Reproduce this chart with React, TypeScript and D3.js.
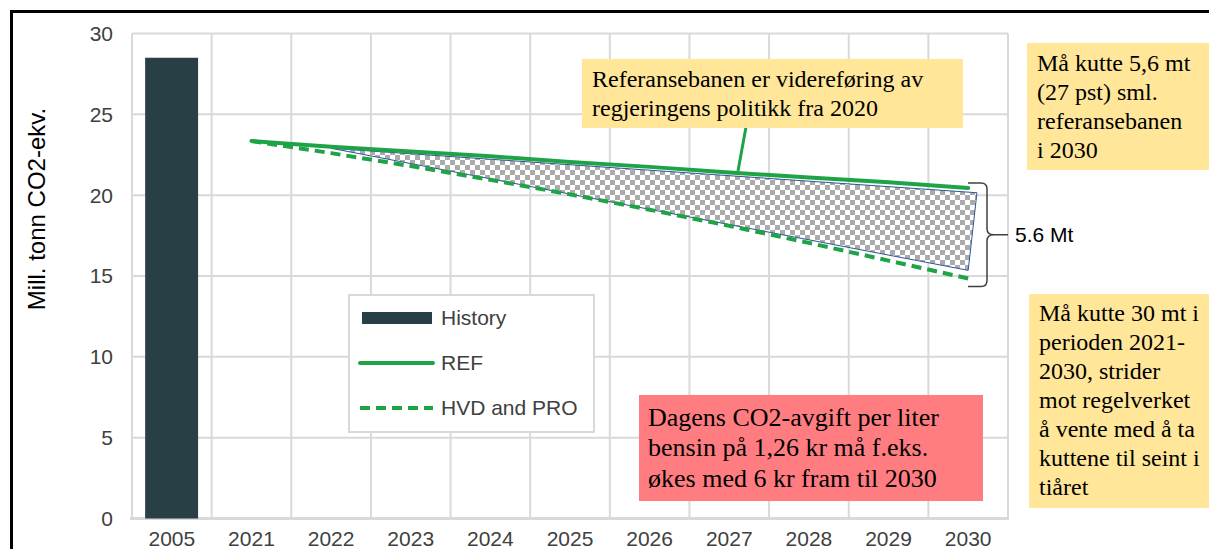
import React from "react";
import * as d3 from "d3";

const categories = ["2005", "2021", "2022", "2023", "2024", "2025", "2026", "2027", "2028", "2029", "2030"];
const historyYears = ["2005"];
const historyValues = [28.5];
const lineYears = ["2021", "2022", "2023", "2024", "2025", "2026", "2027", "2028", "2029", "2030"];
const refValues = [23.35, 23.0, 22.7, 22.4, 22.05, 21.75, 21.4, 21.1, 20.8, 20.45];
const hvdValues = [23.35, 22.6, 21.8, 20.95, 20.05, 19.1, 18.1, 17.05, 15.95, 14.85];
const yTicks = [0, 5, 10, 15, 20, 25, 30];
// gap polygon (year, offset within band, value)
const gapYears = ["2022", "2030", "2030"];
const gapOffsets = [0, 0.11, 0];
const gapValues = [22.9, 20.15, 15.35];

const W = 1209;
const H = 549;
const M = { left: 132, right: 1008, top: 33.5, bottom: 518.5 };

const GREEN = "#1ea347";
const BAR = "#283f45";
const GRID = "#d9d9d9";
const TICK = "#404040";
const SANS = "'Liberation Sans', Arial, sans-serif";
const SERIF = "'Liberation Serif', 'Times New Roman', serif";

export default function App() {
  const x = d3.scaleBand<string>().domain(categories).range([M.left, M.right]).padding(0);
  const y = d3.scaleLinear().domain([0, 30]).range([M.bottom, M.top]);
  const bw = x.bandwidth();
  const cx = (c: string) => (x(c) as number) + bw / 2;

  const line = d3
    .line<number>()
    .x((_, i) => cx(lineYears[i]))
    .y((d) => y(d));

  const gapPts = gapValues.map((v, i) => [cx(gapYears[i]) + gapOffsets[i] * bw, y(v)] as [number, number]);
  const gapPath = "M" + gapPts.map((p) => p.join(",")).join("L") + "Z";

  // brace geometry tied to the 2030 values
  const bTop = y(refValues[refValues.length - 1]) - 5;
  const bBot = y(hvdValues[hvdValues.length - 1]) + 8;
  const bMid = (bTop + bBot) / 2;
  const bx = 987;
  const bx0 = 968;
  const bTip = 1008;
  const bracePath = `M${bx0},${bTop} L${bx - 6},${bTop} Q${bx},${bTop} ${bx},${bTop + 6} L${bx},${bMid - 6} Q${bx},${bMid} ${bx + 7},${bMid} L${bTip},${bMid} M${bx + 7},${bMid} Q${bx},${bMid} ${bx},${bMid + 6} L${bx},${bBot - 6} Q${bx},${bBot} ${bx - 6},${bBot} L${bx0},${bBot}`;

  const legendX = 349;
  const legendY = 295;

  return (
    <svg width={W} height={H} style={{ position: "absolute", left: 0, top: 0, background: "#fff" }}>
      <defs>
        <pattern id="checker" width="10" height="10" patternUnits="userSpaceOnUse">
          <rect width="10" height="10" fill="#ffffff" />
          <rect width="5" height="5" fill="#ababab" />
          <rect x="5" y="5" width="5" height="5" fill="#ababab" />
        </pattern>
      </defs>
      {/* outer frame */}
      <path d={`M11.5,${H + 5} L11.5,11.5 L${W + 5},11.5`} fill="none" stroke="#000" strokeWidth={3} />

      {/* grid */}
      {yTicks.map((t) => (
        <line key={"h" + t} x1={M.left} x2={M.right} y1={y(t)} y2={y(t)} stroke={GRID} strokeWidth={2} />
      ))}
      {categories.map((c) => (
        <line key={"v" + c} x1={x(c)} x2={x(c)} y1={M.top} y2={M.bottom} stroke={GRID} strokeWidth={2} />
      ))}
      <line x1={M.right} x2={M.right} y1={M.top} y2={M.bottom} stroke={GRID} strokeWidth={2} />
      <line x1={M.left - 2} x2={M.right + 1} y1={M.bottom} y2={M.bottom} stroke={GRID} strokeWidth={3} />

      {/* bars */}
      {historyYears.map((c, i) => (
        <rect key={c} x={(x(c) as number) + bw * 0.165} width={bw * 0.665} y={y(historyValues[i])} height={y(0) - y(historyValues[i])} fill={BAR} />
      ))}

      {/* gap polygon */}
      <path d={gapPath} fill="url(#checker)" stroke="#2f5597" strokeWidth={1} />

      {/* lines */}
      <path d={line(refValues) || ""} fill="none" stroke={GREEN} strokeWidth={4} strokeLinecap="round" />
      <path d={line(hvdValues) || ""} fill="none" stroke={GREEN} strokeWidth={4} strokeDasharray="10,6" />

      {/* y tick labels */}
      {yTicks.map((t) => (
        <text key={"yt" + t} x={113} y={y(t)} dy="0.35em" textAnchor="end" fontFamily={SANS} fontSize={21} fill={TICK}>
          {t}
        </text>
      ))}
      {/* x tick labels */}
      {categories.map((c) => (
        <text key={"xt" + c} x={cx(c)} y={546} textAnchor="middle" fontFamily={SANS} fontSize={21} fill={TICK}>
          {c}
        </text>
      ))}

      {/* y axis title */}
      <text transform={`translate(45,209) rotate(-90)`} textAnchor="middle" fontFamily={SANS} fontSize={24} fill="#000">
        Mill. tonn CO2-ekv.
      </text>

      {/* legend */}
      <rect x={legendX} y={legendY} width={245} height={137} fill="#fff" stroke={GRID} strokeWidth={2} />
      <rect x={legendX + 13} y={legendY + 17} width={70} height={12} fill={BAR} />
      <text x={legendX + 92} y={legendY + 23} dy="0.35em" fontFamily={SANS} fontSize={21} fill={TICK}>History</text>
      <line x1={legendX + 11} x2={legendX + 84} y1={legendY + 68} y2={legendY + 68} stroke={GREEN} strokeWidth={4} strokeLinecap="round" />
      <text x={legendX + 92} y={legendY + 68} dy="0.35em" fontFamily={SANS} fontSize={21} fill={TICK}>REF</text>
      <line x1={legendX + 11} x2={legendX + 84} y1={legendY + 113} y2={legendY + 113} stroke={GREEN} strokeWidth={4} strokeDasharray="10,6" />
      <text x={legendX + 92} y={legendY + 113} dy="0.35em" fontFamily={SANS} fontSize={21} fill={TICK}>HVD and PRO</text>

      {/* brace + label */}
      <path d={bracePath} fill="none" stroke="#404040" strokeWidth={1.5} />
      <text x={1015} y={bMid} dy="0.35em" fontFamily={SANS} fontSize={21} fill="#000">5.6 Mt</text>

      {/* connector */}
      <line x1={746} y1={127} x2={738} y2={171} stroke={GREEN} strokeWidth={3} />

      {/* annotation boxes */}
      <rect x={582} y={59} width={381} height={69} fill="#ffe699" />
      <text fontFamily={SERIF} fontSize={24} fill="#000">
        <tspan x={592} y={87}>Referansebanen er videreføring av</tspan>
        <tspan x={592} y={116}>regjeringens politikk fra 2020</tspan>
      </text>

      <rect x={1027} y={43} width={190} height={127} fill="#ffe699" />
      <text fontFamily={SERIF} fontSize={24} fill="#000">
        <tspan x={1037} y={71}>Må kutte 5,6 mt</tspan>
        <tspan x={1037} y={100}>(27 pst) sml.</tspan>
        <tspan x={1037} y={129}>referansebanen</tspan>
        <tspan x={1037} y={158}>i 2030</tspan>
      </text>

      <rect x={1029} y={294} width={190} height={214} fill="#ffe699" />
      <text fontFamily={SERIF} fontSize={24} fill="#000">
        <tspan x={1039} y={321}>Må kutte 30 mt i</tspan>
        <tspan x={1039} y={350}>perioden 2021-</tspan>
        <tspan x={1039} y={379}>2030, strider</tspan>
        <tspan x={1039} y={408}>mot regelverket</tspan>
        <tspan x={1039} y={437}>å vente med å ta</tspan>
        <tspan x={1039} y={466}>kuttene til seint i</tspan>
        <tspan x={1039} y={495}>tiåret</tspan>
      </text>

      <rect x={639} y={395} width={344} height={106} fill="#ff7c80" />
      <text fontFamily={SERIF} fontSize={26} fill="#000">
        <tspan x={648} y={426}>Dagens CO2-avgift per liter</tspan>
        <tspan x={648} y={456}>bensin på 1,26 kr må f.eks.</tspan>
        <tspan x={648} y={487}>økes med 6 kr fram til 2030</tspan>
      </text>
    </svg>
  );
}
